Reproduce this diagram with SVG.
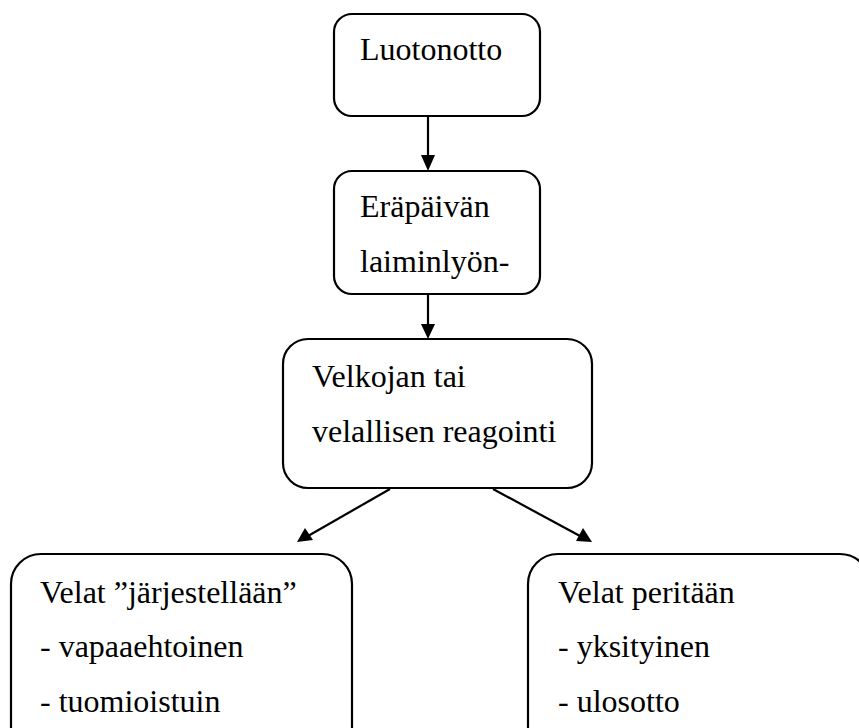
<svg xmlns="http://www.w3.org/2000/svg" width="859" height="728" viewBox="0 0 859 728">
<style>
.box{fill:#fff;stroke:#000;stroke-width:2.2}
.t{font-family:'Liberation Serif','Times New Roman',Tinos,'DejaVu Serif',serif;font-size:32px;fill:#000}
.c{stroke:#000;stroke-width:2.2;fill:none}
</style>
<rect width="859" height="728" fill="#fff"/>
<g id="connectors">
<line class="c" x1="428" y1="116" x2="428" y2="157"/>
<polygon points="421,155 435,155 428,171" fill="#000"/>
<line class="c" x1="428" y1="294" x2="428" y2="326"/>
<polygon points="421,324 435,324 428,339" fill="#000"/>
<line class="c" x1="390" y1="489" x2="308" y2="536"/>
<polygon points="297,542 305,528 313,540" fill="#000"/>
<line class="c" x1="493" y1="489" x2="580" y2="536"/>
<polygon points="592,542 576,541 583,528" fill="#000"/>
</g>
<g id="n1">
<rect class="box" x="334" y="14" width="206" height="102" rx="18"/>
<text class="t" x="360" y="60">Luotonotto</text>
</g>
<g id="n2">
<rect class="box" x="334" y="171" width="206" height="123" rx="18"/>
<text class="t" x="360" y="217">Eräpäivän</text>
<text class="t" x="360" y="272">laiminlyön-</text>
</g>
<g id="n3">
<rect class="box" x="283" y="339" width="309" height="149" rx="25"/>
<text class="t" x="312" y="387">Velkojan tai</text>
<text class="t" x="312" y="442">velallisen reagointi</text>
</g>
<g id="n4">
<rect class="box" x="11" y="554" width="341" height="210" rx="30"/>
<text class="t" x="40" y="603">Velat ”järjestellään”</text>
<text class="t" x="40" y="657">- vapaaehtoinen</text>
<text class="t" x="40" y="712">- tuomioistuin</text>
</g>
<g id="n5">
<rect class="box" x="528" y="554" width="342" height="210" rx="30"/>
<text class="t" x="558" y="603">Velat peritään</text>
<text class="t" x="558" y="657">- yksityinen</text>
<text class="t" x="558" y="712">- ulosotto</text>
</g>
</svg>
